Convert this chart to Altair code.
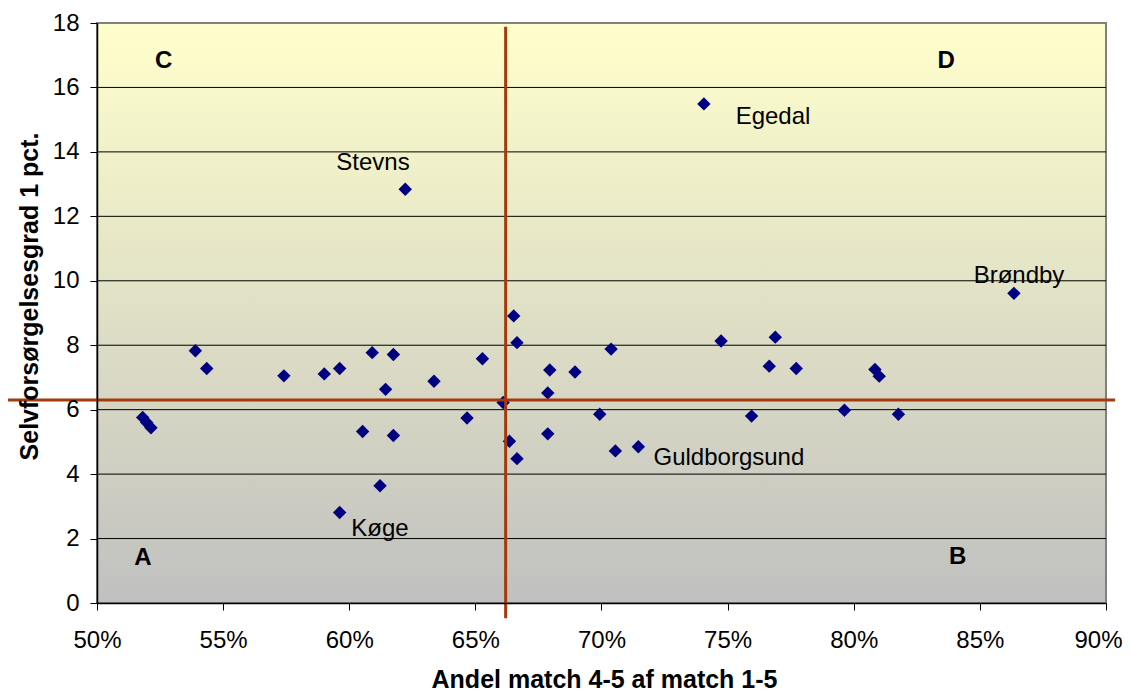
import altair as alt
import pandas as pd

# ---- data ----
share_pct = [51.81, 51.97, 52.14, 53.90, 54.35, 57.41, 59.01, 59.62, 60.91, 61.75,
             61.44, 60.53, 61.75, 61.22, 59.62, 62.22, 63.36, 65.28, 64.67, 66.10,
             66.52, 66.65, 66.35, 66.65, 67.95, 67.87, 67.87, 68.95, 69.93, 70.38,
             70.55, 71.46, 74.06, 74.74, 75.95, 76.89, 76.65, 77.72, 79.63, 80.84,
             81.01, 81.77, 86.35]
selv = [5.76, 5.60, 5.44, 7.83, 7.28, 7.05, 7.11, 7.28, 7.77, 7.71,
        6.63, 5.32, 5.20, 3.64, 2.81, 12.84, 6.88, 7.58, 5.74, 6.22,
        8.91, 8.08, 5.02, 4.48, 7.23, 6.52, 5.25, 7.17, 5.86, 7.88,
        4.72, 4.85, 15.49, 8.13, 5.80, 8.25, 7.35, 7.28, 5.98, 7.25,
        7.04, 5.86, 9.61]

label_names = ["Stevns", "Egedal", "Brøndby", "Guldborgsund", "Køge"]
label_x = [0.6094, 0.7680, 0.8655, 0.7505, 0.6122]
label_y = [13.44, 14.87, 9.92, 4.28, 2.08]

quad_letters = ["A", "B", "C", "D"]
quad_x = [0.5182, 0.8412, 0.5264, 0.8366]
quad_y = [1.18, 1.20, 16.60, 16.60]

x_ticks = [0.50, 0.55, 0.60, 0.65, 0.70, 0.75, 0.80, 0.85, 0.90]
y_ticks = [0, 2, 4, 6, 8, 10, 12, 14, 16, 18]
grid_y = [2, 4, 6, 8, 10, 12, 14, 16]

ref_share = 0.662
ref_selv = 6.3
hline_from, hline_to = 0.4647, 0.9036
vline_from, vline_to = -0.47, 17.88

x_domain = [0.5, 0.9]
y_domain = [0, 18]

# ---- tables ----
pts = pd.DataFrame({"x": [v / 100 for v in share_pct], "y": selv})
labels = pd.DataFrame({"x": label_x, "y": label_y, "t": label_names})
quads = pd.DataFrame({"x": quad_x, "y": quad_y, "t": quad_letters})
grid = pd.DataFrame({"y": grid_y})
bg = pd.DataFrame({"x": [x_domain[0]], "x2": [x_domain[1]], "y": [y_domain[0]], "y2": [y_domain[1]]})
hline = pd.DataFrame({"x": [hline_from], "x2": [hline_to], "y": [ref_selv]})
vline = pd.DataFrame({"x": [ref_share], "y": [vline_from], "y2": [vline_to]})

FONT = "Liberation Sans"
xs = alt.Scale(domain=x_domain, nice=False, zero=False)
ys = alt.Scale(domain=y_domain, nice=False, zero=False)

xaxis = alt.Axis(values=x_ticks, format=".0%", title="Andel match 4-5 af match 1-5",
                 grid=False, tickSize=7, tickColor="black", tickWidth=1,
                 domainColor="black", domainWidth=1.5,
                 labelFont=FONT, labelFontSize=24, labelColor="black", labelPadding=18,
                 labelFlush=False, labelOverlap=False,
                 labelOffset={"condition": {"test": "datum.value >= 0.9", "value": -8}, "value": 0},
                 titleFont=FONT, titleFontSize=25, titleFontWeight="bold", titleColor="black",
                 titleX=507, titleY=84, titleBaseline="alphabetic", titleAlign="center",
                 zindex=1)
yaxis = alt.Axis(values=y_ticks, title="Selvforsørgelsesgrad 1 pct.",
                 grid=False, tickSize=7, tickColor="black", tickWidth=1,
                 domainColor="black", domainWidth=1.5,
                 labelFont=FONT, labelFontSize=24, labelColor="black", labelPadding=11,
                 labelFlush=False, labelOverlap=False,
                 titleFont=FONT, titleFontSize=25, titleFontWeight="bold", titleColor="black",
                 titleAngle=270, titleX=-60, titleY=273, titleBaseline="alphabetic",
                 titleAlign="center", zindex=1)

X = lambda: alt.X("x:Q", scale=xs, axis=xaxis)
Y = lambda: alt.Y("y:Q", scale=ys, axis=yaxis)

gradient = alt.LinearGradient(
    gradient="linear",
    stops=[alt.GradientStop(color="#FFFFCC", offset=0),
           alt.GradientStop(color="#C0C0C0", offset=1)],
    x1=0, x2=0, y1=0, y2=1)

bg_layer = alt.Chart(bg).mark_rect(fill=gradient, stroke="#808080", strokeWidth=2).encode(
    x=X(), x2="x2:Q", y=Y(), y2="y2:Q")

grid_layer = alt.Chart(grid).mark_rule(color="black", strokeWidth=1).encode(y=Y())

pt_layer = alt.Chart(pts).mark_point(shape="diamond", filled=True, size=180,
                                     color="#000080", opacity=1).encode(x=X(), y=Y())

ref_color = "#A33A0C"
h_layer = alt.Chart(hline).mark_rule(color=ref_color, strokeWidth=3, clip=False).encode(
    x=X(), x2="x2:Q", y=Y())
v_layer = alt.Chart(vline).mark_rule(color=ref_color, strokeWidth=3, clip=False).encode(
    x=X(), y=Y(), y2="y2:Q")

lab_layer = alt.Chart(labels).mark_text(font=FONT, fontSize=24, color="black",
                                        align="center", baseline="alphabetic").encode(
    x=X(), y=Y(), text="t:N")
quad_layer = alt.Chart(quads).mark_text(font=FONT, fontSize=24, fontWeight="bold", color="black",
                                        align="center", baseline="alphabetic").encode(
    x=X(), y=Y(), text="t:N")

chart = alt.layer(bg_layer, grid_layer, pt_layer, h_layer, v_layer, lab_layer, quad_layer).properties(
    width=1009, height=580,
    autosize=alt.AutoSizeParams(type="none"),
    padding={"left": 89, "top": 15, "right": 18, "bottom": 90},
    background="white",
).configure_view(stroke=None)

chart.save("out.html", embed_options={"renderer": "svg", "actions": False})
